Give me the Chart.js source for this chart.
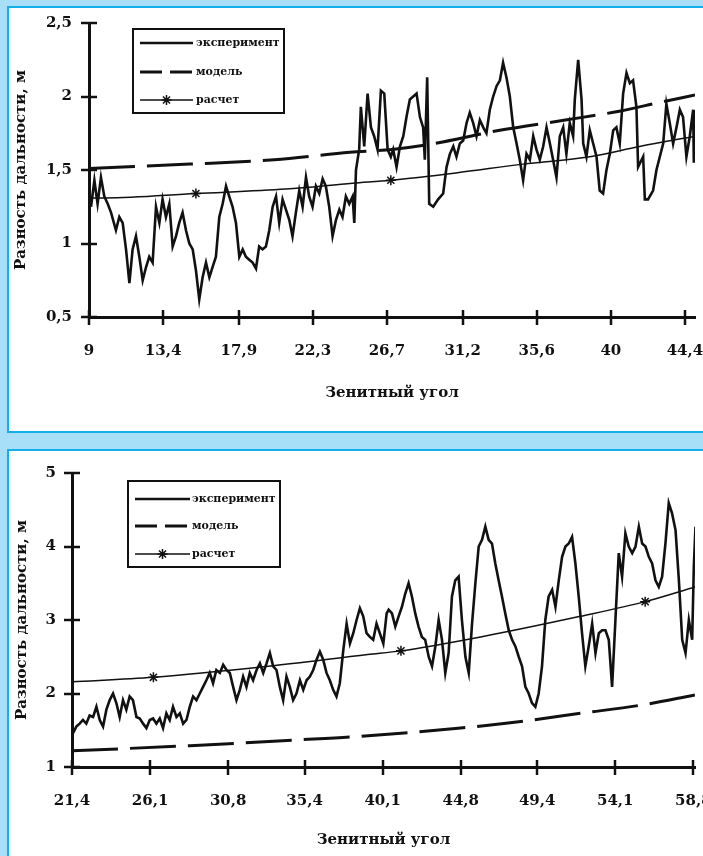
<!DOCTYPE html>
<html><head><meta charset="utf-8">
<script src="https://cdn.jsdelivr.net/npm/chart.js@4.4.1/dist/chart.umd.min.js"></script>
<style>
html,body{margin:0;padding:0;}
body{width:703px;height:856px;background:#a8dff8;position:relative;overflow:hidden;}
.panel{position:absolute;left:7px;width:700px;background:#fff;border:2px solid #14aeea;border-right:none;}
#p1{top:6px;height:423px;}
#p2{top:449px;height:420px;}
canvas{position:absolute;left:9px;}
#c1{top:8px;}
#c2{top:451px;}
</style></head>
<body>
<div class="panel" id="p1"></div>
<div class="panel" id="p2"></div>
<canvas id="c1" width="694" height="423"></canvas>
<canvas id="c2" width="694" height="405"></canvas>
<script>
// ---------- DATA: chart 1 ----------
const seriesNames = ['эксперимент', 'модель', 'расчет'];
const xTitle = 'Зенитный угол';
const yTitle = 'Разность дальности, м';

const xTicks1 = [9, 13.4, 17.9, 22.3, 26.7, 31.2, 35.6, 40, 44.4];
const xTickLabels1 = ['9', '13,4', '17,9', '22,3', '26,7', '31,2', '35,6', '40', '44,4'];
const yTicks1 = [0.5, 1, 1.5, 2, 2.5];
const yTickLabels1 = ['0,5', '1', '1,5', '2', '2,5'];

const exp1 = [
[9.12,1.25],[9.32,1.43],[9.51,1.27],[9.71,1.45],[9.91,1.32],[10.11,1.27],[10.31,1.21],[10.60,1.09],[10.80,1.18],[11.00,1.14],
[11.20,0.96],[11.40,0.73],[11.59,0.96],[11.79,1.05],[11.99,0.91],[12.19,0.75],[12.39,0.84],[12.58,0.91],[12.78,0.87],[12.98,1.25],
[13.18,1.14],[13.37,1.30],[13.57,1.18],[13.77,1.27],[13.97,0.98],[14.17,1.05],[14.36,1.14],[14.56,1.21],[14.76,1.09],[14.96,1.00],
[15.16,0.96],[15.35,0.82],[15.55,0.62],[15.75,0.77],[15.95,0.87],[16.15,0.77],[16.34,0.84],[16.54,0.91],[16.74,1.18],[16.94,1.27],
[17.14,1.39],[17.33,1.32],[17.53,1.25],[17.73,1.14],[17.93,0.91],[18.13,0.96],[18.32,0.91],[18.52,0.89],[18.72,0.87],[18.92,0.83],
[19.11,0.98],[19.31,0.96],[19.51,0.98],[19.71,1.09],[19.91,1.25],[20.11,1.32],[20.30,1.14],[20.50,1.30],[20.70,1.23],[20.90,1.16],
[21.09,1.05],[21.29,1.21],[21.49,1.36],[21.69,1.25],[21.89,1.45],[22.08,1.32],[22.28,1.25],[22.48,1.39],[22.68,1.34],[22.88,1.44],
[23.07,1.39],[23.27,1.25],[23.47,1.05],[23.67,1.16],[23.87,1.23],[24.06,1.18],[24.26,1.32],[24.46,1.27],[24.66,1.32],[24.76,1.14],
[24.86,1.50],[25.05,1.64],[25.15,1.93],[25.35,1.66],[25.55,2.02],[25.75,1.79],[25.94,1.73],[26.14,1.64],[26.34,2.04],[26.54,2.02],
[26.74,1.64],[26.93,1.59],[27.07,1.64],[27.27,1.52],[27.47,1.66],[27.67,1.73],[27.86,1.86],[28.06,1.98],[28.26,2.00],[28.46,2.02],
[28.66,1.86],[28.85,1.79],[28.95,1.57],[29.09,2.13],[29.21,1.27],[29.45,1.25],[29.74,1.30],[30.04,1.34],[30.24,1.52],[30.44,1.61],
[30.64,1.66],[30.83,1.59],[31.03,1.68],[31.23,1.70],[31.43,1.82],[31.62,1.89],[31.82,1.82],[32.02,1.73],[32.22,1.84],[32.42,1.79],
[32.61,1.75],[32.81,1.91],[33.01,2.00],[33.21,2.07],[33.41,2.11],[33.60,2.23],[33.80,2.13],[34.00,2.00],[34.20,1.79],[34.40,1.68],
[34.59,1.57],[34.79,1.43],[34.99,1.61],[35.19,1.57],[35.39,1.73],[35.58,1.64],[35.78,1.57],[35.98,1.66],[36.18,1.79],[36.38,1.68],
[36.57,1.57],[36.77,1.45],[36.97,1.73],[37.17,1.79],[37.36,1.61],[37.56,1.82],[37.76,1.73],[37.86,1.98],[38.06,2.25],[38.26,1.98],
[38.36,1.68],[38.55,1.59],[38.75,1.77],[38.95,1.68],[39.15,1.59],[39.34,1.36],[39.54,1.34],[39.74,1.50],[39.94,1.61],[40.14,1.77],
[40.33,1.79],[40.53,1.68],[40.73,2.02],[40.93,2.16],[41.13,2.09],[41.32,2.11],[41.52,1.93],[41.62,1.52],[41.92,1.59],[42.02,1.30],
[42.21,1.30],[42.51,1.36],[42.71,1.50],[42.91,1.59],[43.11,1.68],[43.30,1.95],[43.50,1.82],[43.70,1.68],[43.90,1.79],[44.10,1.91],
[44.29,1.86],[44.49,1.59],[44.69,1.73],[44.89,1.91],[44.93,1.55]
];
const model1 = [[9,1.51],[15,1.54],[20,1.57],[24.5,1.62],[27,1.64],[29,1.67],[33.4,1.77],[37.3,1.84],[40.5,1.90],[42.9,1.96],[45,2.01]];
const calc1 = [[9,1.31],[10,1.31],[15.35,1.34],[20.7,1.37],[24.66,1.41],[26.93,1.43],[30.8,1.48],[34.8,1.54],[38.75,1.59],[41.7,1.66],[45,1.73]];
const calcMarks1 = [15.35, 26.93];

// ---------- DATA: chart 2 ----------
const xTicks2 = [21.4, 26.1, 30.8, 35.4, 40.1, 44.8, 49.4, 54.1, 58.8];
const xTickLabels2 = ['21,4', '26,1', '30,8', '35,4', '40,1', '44,8', '49,4', '54,1', '58,8'];
const yTicks2 = [1, 2, 3, 4, 5];
const yTickLabels2 = ['1', '2', '3', '4', '5'];

const exp2 = [
[21.46,1.46],[21.66,1.55],[21.86,1.59],[22.06,1.64],[22.26,1.59],[22.46,1.70],[22.67,1.68],[22.87,1.82],[23.07,1.64],[23.27,1.55],
[23.47,1.78],[23.67,1.91],[23.87,2.00],[24.07,1.87],[24.27,1.68],[24.47,1.91],[24.67,1.78],[24.87,1.96],[25.07,1.91],[25.28,1.68],
[25.48,1.66],[25.68,1.59],[25.88,1.53],[26.08,1.64],[26.28,1.66],[26.48,1.59],[26.68,1.66],[26.88,1.53],[27.08,1.73],[27.28,1.64],
[27.48,1.82],[27.69,1.68],[27.89,1.73],[28.09,1.59],[28.29,1.64],[28.49,1.82],[28.69,1.96],[28.89,1.91],[29.09,2.00],[29.29,2.09],
[29.49,2.18],[29.69,2.28],[29.89,2.14],[30.09,2.32],[30.30,2.28],[30.50,2.39],[30.70,2.32],[30.90,2.28],[31.10,2.09],[31.30,1.91],
[31.50,2.05],[31.70,2.23],[31.90,2.09],[32.10,2.28],[32.30,2.18],[32.51,2.32],[32.71,2.41],[32.91,2.28],[33.11,2.41],[33.31,2.55],
[33.51,2.37],[33.71,2.32],[33.91,2.09],[34.11,1.91],[34.31,2.23],[34.51,2.09],[34.71,1.91],[34.91,2.00],[35.12,2.18],[35.32,2.05],
[35.52,2.18],[35.72,2.23],[35.92,2.32],[36.12,2.46],[36.32,2.57],[36.52,2.46],[36.72,2.28],[36.92,2.18],[37.12,2.05],[37.32,1.96],
[37.52,2.14],[37.73,2.59],[37.93,2.95],[38.13,2.68],[38.33,2.82],[38.53,3.00],[38.73,3.16],[38.93,3.05],[39.13,2.82],[39.33,2.77],
[39.53,2.73],[39.73,2.95],[39.93,2.82],[40.14,2.68],[40.34,3.09],[40.46,3.14],[40.66,3.09],[40.86,2.91],[41.06,3.05],[41.26,3.18],
[41.46,3.36],[41.66,3.50],[41.86,3.32],[42.06,3.09],[42.26,2.91],[42.46,2.77],[42.66,2.73],[42.87,2.50],[43.07,2.37],[43.27,2.64],
[43.47,3.00],[43.67,2.73],[43.87,2.28],[44.07,2.55],[44.27,3.32],[44.47,3.54],[44.67,3.59],[44.87,3.00],[45.08,2.50],[45.28,2.28],
[45.48,2.95],[45.68,3.50],[45.88,4.00],[46.08,4.09],[46.28,4.27],[46.48,4.09],[46.68,4.04],[46.88,3.77],[47.08,3.54],[47.28,3.32],
[47.48,3.09],[47.69,2.86],[47.89,2.73],[48.09,2.64],[48.29,2.50],[48.49,2.37],[48.69,2.09],[48.89,2.00],[49.09,1.87],[49.29,1.82],
[49.49,2.00],[49.69,2.37],[49.89,3.00],[50.09,3.32],[50.30,3.41],[50.50,3.18],[50.70,3.54],[50.90,3.86],[51.10,4.00],[51.30,4.04],
[51.50,4.13],[51.70,3.77],[51.90,3.32],[52.10,2.82],[52.30,2.37],[52.50,2.64],[52.71,2.95],[52.91,2.55],[53.11,2.82],[53.31,2.86],
[53.51,2.86],[53.71,2.73],[53.91,2.09],[54.11,3.00],[54.31,3.91],[54.51,3.59],[54.71,4.18],[54.91,4.00],[55.12,3.91],[55.32,4.00],
[55.52,4.27],[55.72,4.04],[55.92,4.00],[56.12,3.86],[56.32,3.77],[56.52,3.54],[56.72,3.45],[56.92,3.59],[57.12,4.04],[57.32,4.59],
[57.52,4.45],[57.73,4.22],[57.93,3.54],[58.13,2.73],[58.33,2.55],[58.53,3.00],[58.73,2.73],[58.83,3.73],[58.93,4.27]
];
const model2 = [[21.4,1.22],[28.5,1.29],[35.1,1.37],[38.2,1.41],[44.8,1.53],[48.8,1.63],[52,1.73],[55.6,1.84],[58.9,1.98]];
const calc2 = [[21.4,2.16],[26.3,2.22],[33.2,2.37],[39.2,2.53],[41.2,2.58],[46,2.77],[52,3.05],[55.9,3.25],[58.9,3.45]];
const calcMarks2 = [26.3, 41.2, 55.9];

// ---------- rendering ----------
const INK = '#111';
const FONT = '"DejaVu Serif", "Liberation Serif", serif';
Chart.defaults.color = INK;

function drawStar(ctx, x, y, r) {
  ctx.beginPath();
  for (let k = 0; k < 4; k++) {
    const a = k * Math.PI / 4;
    ctx.moveTo(x - r * Math.sin(a), y - r * Math.cos(a));
    ctx.lineTo(x + r * Math.sin(a), y + r * Math.cos(a));
  }
  ctx.stroke();
}

const decor = {
  id: 'decor',
  afterDraw(chart, args, opts) {
    const ctx = chart.ctx, xs = chart.scales.x, ys = chart.scales.y, ca = chart.chartArea;
    ctx.save();
    ctx.strokeStyle = INK;
    ctx.lineWidth = 2.5;
    xs.ticks.forEach(t => {
      const p = Math.round(xs.getPixelForValue(t.value));
      ctx.beginPath(); ctx.moveTo(p, ca.bottom - 7); ctx.lineTo(p, ca.bottom + 8); ctx.stroke();
    });
    ys.ticks.forEach(t => {
      const p = Math.round(ys.getPixelForValue(t.value));
      ctx.beginPath(); ctx.moveTo(ca.left - 8, p); ctx.lineTo(ca.left + 8, p); ctx.stroke();
    });
    // legend box
    const L = opts.box;
    ctx.lineWidth = 2;
    ctx.strokeRect(L.x, L.y, L.w, L.h);
    chart.data.datasets.forEach((ds, i) => {
      const y = L.rows[i];
      ctx.beginPath();
      ctx.setLineDash(ds.legendDash || []);
      ctx.lineWidth = ds.borderWidth;
      ctx.moveTo(L.lx1, y); ctx.lineTo(L.lx2, y); ctx.stroke();
      ctx.setLineDash([]);
      if (ds.legendMarker) { ctx.lineWidth = 1.5; drawStar(ctx, (L.lx1 + L.lx2) / 2, y, 5); }
      ctx.font = 'bold 11px ' + FONT;
      ctx.fillStyle = INK;
      ctx.textBaseline = 'middle';
      ctx.textAlign = 'left';
      ctx.fillText(ds.label, L.tx, y);
    });
    ctx.restore();
  }
};

function pts(arr) { return arr.map(([x, y]) => ({x, y})); }

function makeChart(id, cfg) {
  const tickFont = {family: FONT, size: 15, weight: 'bold'};
  const titleFont = {family: FONT, size: 15, weight: 'bold'};
  return new Chart(document.getElementById(id), {
    type: 'line',
    data: {
      datasets: [
        {label: seriesNames[0], data: pts(cfg.exp), borderColor: INK, borderWidth: 2.6, pointRadius: 0, tension: 0},
        {label: seriesNames[1], data: pts(cfg.model), borderColor: INK, borderWidth: 3, borderDash: [46, 12], legendDash: [22, 8],
         pointRadius: 0, tension: 0.4, cubicInterpolationMode: 'monotone'},
        {label: seriesNames[2], data: pts(cfg.calc), borderColor: INK, borderWidth: 1.5, tension: 0.4, cubicInterpolationMode: 'monotone',
         legendMarker: true, pointStyle: 'star', pointBorderColor: INK, pointBackgroundColor: INK, pointBorderWidth: 1.5,
         pointRadius: c => (c.raw && cfg.marks.includes(c.raw.x)) ? 5 : 0, pointHoverRadius: 0}
      ]
    },
    options: {
      responsive: false, animation: false, events: [],
      layout: {padding: cfg.pad},
      plugins: {legend: {display: false}, tooltip: {enabled: false}, decor: {box: cfg.legend}},
      scales: {
        x: {
          type: 'linear', min: cfg.xmin, max: cfg.xmax,
          afterBuildTicks: s => { s.ticks = cfg.xTicks.map(v => ({value: v})); },
          afterFit: s => { s.height = cfg.xh; s.paddingLeft = 0; s.paddingRight = 0; },
          ticks: {autoSkip: false, maxRotation: 0, minRotation: 0, padding: 25, font: tickFont, color: INK,
                  callback: (v, i) => cfg.xLabels[i]},
          grid: {display: false, drawTicks: false},
          border: {display: true, color: INK, width: 3},
          title: {display: true, text: xTitle, font: titleFont, color: INK, padding: {top: 0, bottom: 0}}
        },
        y: {
          type: 'linear', min: cfg.ymin, max: cfg.ymax,
          afterBuildTicks: s => { s.ticks = cfg.yTicks.map(v => ({value: v})); },
          afterFit: s => { s.width = cfg.yw; s.paddingTop = 0; s.paddingBottom = 0; },
          ticks: {padding: cfg.ypad, font: tickFont, color: INK, callback: (v, i) => cfg.yLabels[i]},
          grid: {display: false, drawTicks: false},
          border: {display: true, color: INK, width: 3},
          title: {display: true, text: yTitle, font: titleFont, color: INK, padding: {top: cfg.ytp, bottom: 0}}
        }
      }
    },
    plugins: [decor]
  });
}

makeChart('c1', {
  exp: exp1, model: model1, calc: calc1, marks: calcMarks1,
  xmin: 9, xmax: 45, ymin: 0.5, ymax: 2.5,
  xTicks: xTicks1, xLabels: xTickLabels1, yTicks: yTicks1, yLabels: yTickLabels1,
  pad: {left: 0, top: 15, right: 8, bottom: 29}, xh: 85, yw: 80, ypad: 17, ytp: 3,
  legend: {x: 124, y: 21, w: 151, h: 84, rows: [35, 64, 92], lx1: 131, lx2: 184, tx: 187}
});

makeChart('c2', {
  exp: exp2, model: model2, calc: calc2, marks: calcMarks2,
  xmin: 21.4, xmax: 58.9, ymin: 1, ymax: 5,
  xTicks: xTicks2, xLabels: xTickLabels2, yTicks: yTicks2, yLabels: yTickLabels2,
  pad: {left: 0, top: 22, right: 8, bottom: 7}, xh: 82, yw: 63, ypad: 16, ytp: 4,
  legend: {x: 119, y: 30, w: 152, h: 86, rows: [48, 75, 103], lx1: 126, lx2: 181, tx: 183}
});
</script>
</body></html>
